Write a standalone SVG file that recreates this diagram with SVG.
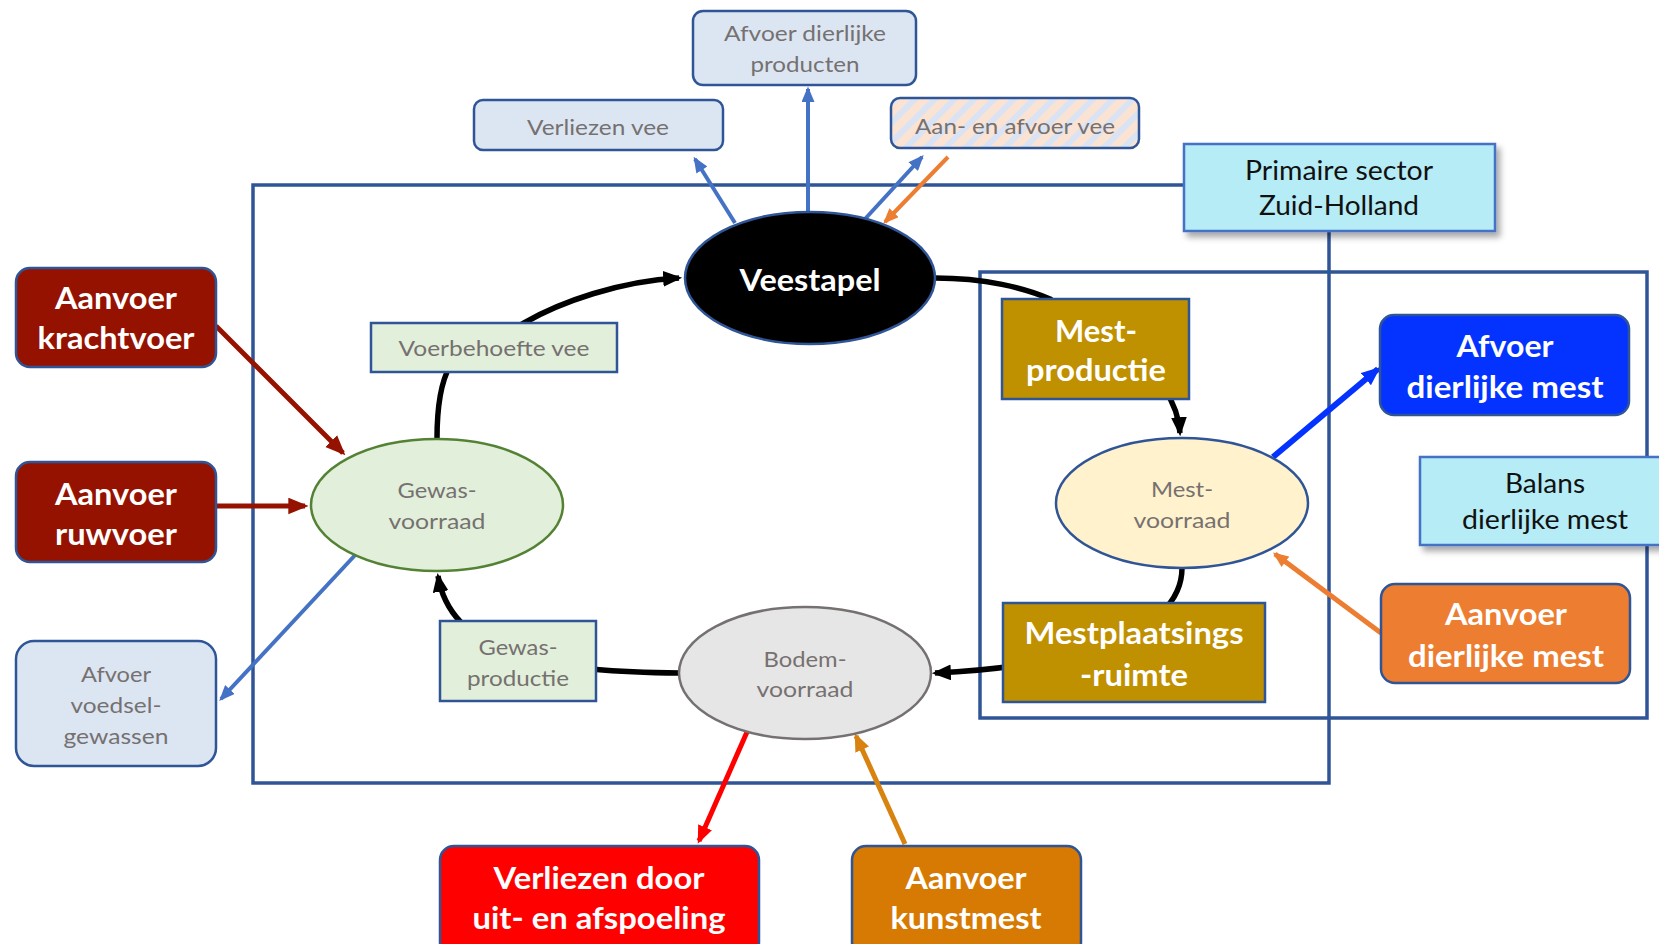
<svg xmlns="http://www.w3.org/2000/svg" width="1659" height="944" viewBox="0 0 1659 944">
<style>
.frame{fill:none;stroke:#2f5597;stroke-width:3.5}
.box{stroke:#2f5597;stroke-width:2.5}
.lb{fill:#dce6f3}
.lg{fill:#e2efda}
.cy{fill:#b5ecf6;stroke:#4472c4;stroke-width:2.5}
.gt{font-family:Lato,"Open Sans",sans-serif;font-size:21px;fill:#767171;text-anchor:middle}
.bt{font-family:Lato,"Open Sans",sans-serif;font-weight:bold;font-size:31px;fill:#fff;text-anchor:middle}
.kt{font-family:Lato,"Open Sans",sans-serif;font-size:27px;fill:#111;text-anchor:middle}
.c{fill:none;stroke-linecap:butt}
</style>
<defs>
<marker id="ahk" viewBox="0 0 12 10" refX="10" refY="5" markerWidth="19" markerHeight="16" markerUnits="userSpaceOnUse" orient="auto"><path d="M0,0 L12,5 L0,10 z" fill="#000"/></marker>
<marker id="ahb" viewBox="0 0 12 10" refX="10" refY="5" markerWidth="16" markerHeight="13" markerUnits="userSpaceOnUse" orient="auto"><path d="M0,0 L12,5 L0,10 z" fill="#4472c4"/></marker>
<marker id="aho" viewBox="0 0 12 10" refX="10" refY="5" markerWidth="16" markerHeight="13" markerUnits="userSpaceOnUse" orient="auto"><path d="M0,0 L12,5 L0,10 z" fill="#ed7d31"/></marker>
<marker id="ahr" viewBox="0 0 12 10" refX="10" refY="5" markerWidth="20" markerHeight="17" markerUnits="userSpaceOnUse" orient="auto"><path d="M0,0 L12,5 L0,10 z" fill="#951200"/></marker>
<marker id="ahbb" viewBox="0 0 12 10" refX="10" refY="5" markerWidth="19" markerHeight="16" markerUnits="userSpaceOnUse" orient="auto"><path d="M0,0 L12,5 L0,10 z" fill="#0433ff"/></marker>
<marker id="ahred" viewBox="0 0 12 10" refX="10" refY="5" markerWidth="18" markerHeight="15" markerUnits="userSpaceOnUse" orient="auto"><path d="M0,0 L12,5 L0,10 z" fill="#ff0000"/></marker>
<marker id="ahkm" viewBox="0 0 12 10" refX="10" refY="5" markerWidth="18" markerHeight="15" markerUnits="userSpaceOnUse" orient="auto"><path d="M0,0 L12,5 L0,10 z" fill="#d8820f"/></marker>
<pattern id="hatch" patternUnits="userSpaceOnUse" width="14" height="14" patternTransform="rotate(45)">
<rect width="14" height="14" fill="#fbe3d3"/>
<rect width="6" height="14" fill="#dae3f3"/>
</pattern>
<filter id="sh" x="-10%" y="-10%" width="130%" height="140%">
<feDropShadow dx="4" dy="5" stdDeviation="3" flood-color="#000" flood-opacity="0.35"/>
</filter>
</defs>

<g id="frames">
<rect class="frame" x="253" y="185" width="1076" height="598"/>
<rect class="frame" x="980" y="272" width="667" height="446"/>
</g>

<g id="connectors">
<path class="c" d="M437,439 C437,400 442,380 450,366 L524,323 C560,302 620,281 679,278" stroke="#000" stroke-width="5.5" marker-end="url(#ahk)"/>
<path class="c" d="M935,278 C985,278 1025,288 1050,299 L1165,390 C1175,405 1179,418 1180,433" stroke="#000" stroke-width="5.5" marker-end="url(#ahk)"/>
<path class="c" d="M1182,568 C1182,640 1050,668 935,673" stroke="#000" stroke-width="5.5" marker-end="url(#ahk)"/>
<path class="c" d="M680,673 C560,672 452,660 438,576" stroke="#000" stroke-width="5.5" marker-end="url(#ahk)"/>
<line class="c" x1="735" y1="223" x2="695" y2="159" stroke="#4472c4" stroke-width="4" marker-end="url(#ahb)"/>
<line class="c" x1="808" y1="214" x2="808" y2="89" stroke="#4472c4" stroke-width="4" marker-end="url(#ahb)"/>
<line class="c" x1="865" y1="219" x2="922" y2="157" stroke="#4472c4" stroke-width="4" marker-end="url(#ahb)"/>
<line class="c" x1="948" y1="157" x2="885" y2="222" stroke="#ed7d31" stroke-width="4" marker-end="url(#aho)"/>
<line class="c" x1="216" y1="326" x2="343" y2="453" stroke="#951200" stroke-width="5" marker-end="url(#ahr)"/>
<line class="c" x1="216" y1="506" x2="305" y2="506" stroke="#951200" stroke-width="5" marker-end="url(#ahr)"/>
<line class="c" x1="358" y1="552" x2="221" y2="699" stroke="#4472c4" stroke-width="4" marker-end="url(#ahb)"/>
<line class="c" x1="1273" y1="457" x2="1378" y2="369" stroke="#0433ff" stroke-width="6" marker-end="url(#ahbb)"/>
<line class="c" x1="1381" y1="633" x2="1275" y2="554" stroke="#ed7d31" stroke-width="5" marker-end="url(#aho)"/>
<line class="c" x1="747" y1="732" x2="699" y2="841" stroke="#ff0000" stroke-width="5" marker-end="url(#ahred)"/>
<line class="c" x1="905" y1="844" x2="856" y2="736" stroke="#d8820f" stroke-width="5" marker-end="url(#ahkm)"/>
</g>

<g id="primaire-sector">
<rect class="cy" x="1184" y="144" width="311" height="87" filter="url(#sh)"/>
<text class="kt" x="1339" y="180" textLength="188" lengthAdjust="spacingAndGlyphs">Primaire sector</text>
<text class="kt" x="1339" y="215" textLength="160" lengthAdjust="spacingAndGlyphs">Zuid-Holland</text>
</g>
<g id="balans">
<rect class="cy" x="1420" y="457" width="250" height="88" filter="url(#sh)"/>
<text class="kt" x="1545" y="493" textLength="80" lengthAdjust="spacingAndGlyphs">Balans</text>
<text class="kt" x="1545" y="529" textLength="166" lengthAdjust="spacingAndGlyphs">dierlijke mest</text>
</g>

<g id="afvoer-dierlijke-producten">
<rect class="box lb" x="693" y="11" width="223" height="74" rx="10"/>
<text class="gt" x="805" y="41" textLength="162" lengthAdjust="spacingAndGlyphs">Afvoer dierlijke</text>
<text class="gt" x="805" y="72" textLength="109" lengthAdjust="spacingAndGlyphs">producten</text>
</g>
<g id="verliezen-vee">
<rect class="box lb" x="474" y="100" width="249" height="50" rx="9"/>
<text class="gt" x="598" y="135" textLength="142" lengthAdjust="spacingAndGlyphs">Verliezen vee</text>
</g>
<g id="aan-en-afvoer-vee">
<rect class="box" x="891" y="98" width="248" height="50" rx="9" fill="url(#hatch)"/>
<text class="gt" x="1015" y="134" textLength="200" lengthAdjust="spacingAndGlyphs">Aan- en afvoer vee</text>
</g>

<g id="veestapel">
<ellipse cx="810" cy="278" rx="125" ry="66" fill="#000" stroke="#2f5597" stroke-width="2.5"/>
<text class="bt" x="810" y="291" textLength="141" lengthAdjust="spacingAndGlyphs">Veestapel</text>
</g>

<g id="voerbehoefte-vee">
<rect class="box lg" x="371" y="323" width="246" height="49"/>
<text class="gt" x="494" y="356" textLength="191" lengthAdjust="spacingAndGlyphs">Voerbehoefte vee</text>
</g>

<g id="gewas-voorraad">
<ellipse cx="437" cy="505" rx="126" ry="66" fill="#e2efda" stroke="#548235" stroke-width="2.5"/>
<text class="gt" x="437" y="498" textLength="79" lengthAdjust="spacingAndGlyphs">Gewas-</text>
<text class="gt" x="437" y="529" textLength="97" lengthAdjust="spacingAndGlyphs">voorraad</text>
</g>

<g id="mest-productie">
<rect class="box" x="1002" y="299" width="187" height="100" fill="#bf9000"/>
<text class="bt" x="1096" y="342" textLength="82" lengthAdjust="spacingAndGlyphs">Mest-</text>
<text class="bt" x="1096" y="381" textLength="140" lengthAdjust="spacingAndGlyphs">productie</text>
</g>

<g id="mest-voorraad">
<ellipse cx="1182" cy="503" rx="126" ry="65" fill="#fff2cc" stroke="#2f5597" stroke-width="2.5"/>
<text class="gt" x="1182" y="497" textLength="62" lengthAdjust="spacingAndGlyphs">Mest-</text>
<text class="gt" x="1182" y="528" textLength="97" lengthAdjust="spacingAndGlyphs">voorraad</text>
</g>

<g id="mestplaatsingsruimte">
<rect class="box" x="1003" y="603" width="262" height="99" fill="#bf9000"/>
<text class="bt" x="1134" y="644" textLength="219" lengthAdjust="spacingAndGlyphs">Mestplaatsings</text>
<text class="bt" x="1134" y="686" textLength="108" lengthAdjust="spacingAndGlyphs">-ruimte</text>
</g>

<g id="gewas-productie">
<rect class="box lg" x="440" y="621" width="156" height="80"/>
<text class="gt" x="518" y="655" textLength="79" lengthAdjust="spacingAndGlyphs">Gewas-</text>
<text class="gt" x="518" y="686" textLength="102" lengthAdjust="spacingAndGlyphs">productie</text>
</g>

<g id="bodem-voorraad">
<ellipse cx="805" cy="673" rx="126" ry="66" fill="#e7e6e6" stroke="#767171" stroke-width="2.5"/>
<text class="gt" x="805" y="667" textLength="83" lengthAdjust="spacingAndGlyphs">Bodem-</text>
<text class="gt" x="805" y="697" textLength="97" lengthAdjust="spacingAndGlyphs">voorraad</text>
</g>

<g id="aanvoer-krachtvoer">
<rect class="box" x="16" y="268" width="200" height="99" rx="14" fill="#951200"/>
<text class="bt" x="116" y="309" textLength="122" lengthAdjust="spacingAndGlyphs">Aanvoer</text>
<text class="bt" x="116" y="349" textLength="157" lengthAdjust="spacingAndGlyphs">krachtvoer</text>
</g>
<g id="aanvoer-ruwvoer">
<rect class="box" x="16" y="462" width="200" height="100" rx="14" fill="#951200"/>
<text class="bt" x="116" y="505" textLength="122" lengthAdjust="spacingAndGlyphs">Aanvoer</text>
<text class="bt" x="116" y="545" textLength="122" lengthAdjust="spacingAndGlyphs">ruwvoer</text>
</g>
<g id="afvoer-voedselgewassen">
<rect class="box lb" x="16" y="641" width="200" height="125" rx="18"/>
<text class="gt" x="116" y="682" textLength="70" lengthAdjust="spacingAndGlyphs">Afvoer</text>
<text class="gt" x="116" y="713" textLength="91" lengthAdjust="spacingAndGlyphs">voedsel-</text>
<text class="gt" x="116" y="744" textLength="105" lengthAdjust="spacingAndGlyphs">gewassen</text>
</g>

<g id="afvoer-dierlijke-mest">
<rect class="box" x="1380" y="315" width="249" height="100" rx="14" fill="#0433ff"/>
<text class="bt" x="1505" y="357" textLength="97" lengthAdjust="spacingAndGlyphs">Afvoer</text>
<text class="bt" x="1505" y="398" textLength="197" lengthAdjust="spacingAndGlyphs">dierlijke mest</text>
</g>
<g id="aanvoer-dierlijke-mest">
<rect class="box" x="1381" y="584" width="249" height="99" rx="14" fill="#ed7d31"/>
<text class="bt" x="1506" y="625" textLength="122" lengthAdjust="spacingAndGlyphs">Aanvoer</text>
<text class="bt" x="1506" y="667" textLength="196" lengthAdjust="spacingAndGlyphs">dierlijke mest</text>
</g>

<g id="verliezen-uit-afspoeling">
<rect class="box" x="440" y="846" width="319" height="110" rx="14" fill="#ff0000"/>
<text class="bt" x="599" y="889" textLength="211" lengthAdjust="spacingAndGlyphs">Verliezen door</text>
<text class="bt" x="599" y="929" textLength="253" lengthAdjust="spacingAndGlyphs">uit- en afspoeling</text>
</g>
<g id="aanvoer-kunstmest">
<rect class="box" x="852" y="846" width="229" height="110" rx="14" fill="#d67a03"/>
<text class="bt" x="966" y="889" textLength="121" lengthAdjust="spacingAndGlyphs">Aanvoer</text>
<text class="bt" x="966" y="929" textLength="151" lengthAdjust="spacingAndGlyphs">kunstmest</text>
</g>
</svg>
